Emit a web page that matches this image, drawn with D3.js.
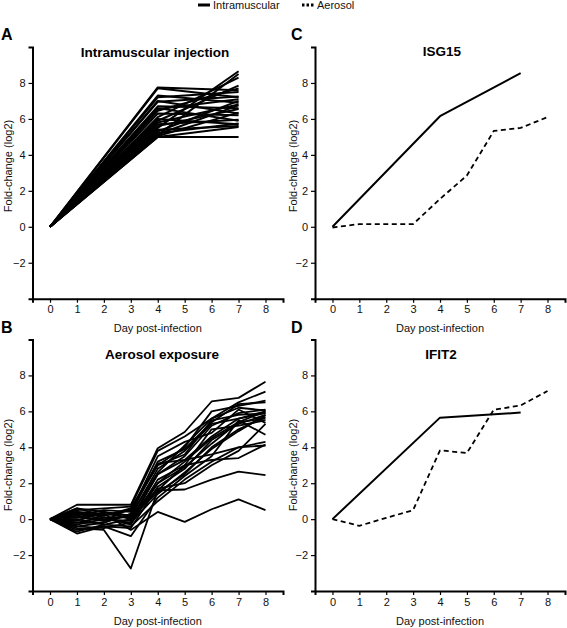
<!DOCTYPE html>
<html><head><meta charset="utf-8">
<script src="https://cdn.jsdelivr.net/npm/d3@7"></script>
<style>
html,body{margin:0;padding:0;background:#fff;}
svg{display:block;font-family:"Liberation Sans",Arial,Helvetica,sans-serif;}
</style></head>
<body>
<script>
// ---------- data ----------
const imDays = [0, 4, 7];
const aeroDays = [0, 1, 2, 3, 4, 5, 6, 7, 8];
const xTicks = [0, 1, 2, 3, 4, 5, 6, 7, 8];
const yTicks = [-2, 0, 2, 4, 6, 8];

// Panel A: intramuscular injection genes (values at days 0, 4, 7)
const imGenes = [
  [0, 7.75, 7.6], [0, 7.7, 7.2], [0, 7.3, 6.9], [0, 7.2, 7.5], [0, 7.0, 6.3],
  [0, 6.95, 7.25], [0, 6.7, 6.6], [0, 6.6, 5.9], [0, 6.55, 7.1], [0, 6.3, 6.2],
  [0, 6.1, 8.3], [0, 6.0, 5.7], [0, 5.9, 7.85], [0, 5.8, 6.8], [0, 5.7, 5.95],
  [0, 5.6, 6.55], [0, 5.5, 8.65], [0, 5.4, 5.6], [0, 5.3, 7.0], [0, 5.2, 5.75],
  [0, 5.1, 8.5], [0, 5.05, 6.35], [0, 5.0, 5.0], [0, 5.0, 5.55], [0, 5.15, 6.75],
  [0, 6.45, 7.7]
];

// Panel B: aerosol exposure genes (values at days 0..8)
const aeroGenes = [
  [0, 0.8, 0.8, 0.8, 3.95, 4.85, 6.55, 6.75, 7.65],
  [0, 0.5, 0.6, 0.7, 3.8, 4.6, 5.6, 6.5, 7.1],
  [0, 0.3, 0.2, 0.5, 3.0, 4.0, 6.0, 6.3, 6.6],
  [0, -0.4, -0.2, 0.3, 3.2, 3.9, 5.4, 6.4, 6.5],
  [0, 0.6, 0.4, 0.0, 2.5, 3.5, 5.2, 5.9, 6.1],
  [0, -0.2, 0.1, -0.3, 2.0, 3.2, 4.5, 5.4, 6.0],
  [0, 0.1, -0.1, 0.2, 2.8, 3.8, 5.3, 5.6, 5.9],
  [0, -0.6, -0.4, -0.5, 1.8, 2.8, 4.4, 5.3, 5.8],
  [0, 0.4, 0.3, 0.1, 1.5, 2.5, 4.0, 5.0, 5.7],
  [0, -0.3, 0.0, -0.2, 2.2, 3.0, 5.0, 5.2, 5.5],
  [0, 0.2, 0.5, 0.4, 3.5, 4.3, 4.8, 6.1, 5.35],
  [0, -0.8, -0.4, -0.95, 1.2, 2.4, 3.5, 5.5, 4.7],
  [0, 0.0, -0.3, -0.4, 1.0, 2.2, 3.2, 4.0, 4.3],
  [0, -0.5, -0.6, -2.75, 1.6, 3.0, 3.3, 3.4, 4.15],
  [0, 0.3, 0.0, -0.1, 2.5, 3.3, 3.6, 4.0, 4.1],
  [0, -0.2, -0.2, 0.3, 1.6, 1.65, 2.2, 2.65, 2.45],
  [0, 0.1, 0.3, -0.6, 0.4, -0.15, 0.55, 1.1, 0.5],
  [0, 0.6, 0.2, 0.6, 3.0, 3.6, 5.5, 5.8, 5.9],
  [0, -0.1, 0.4, 0.2, 2.6, 4.1, 5.6, 6.2, 6.05],
  [0, 0.4, 0.1, 0.1, 2.0, 2.9, 4.2, 5.4, 5.6],
  [0, -0.4, -0.5, -0.2, 1.4, 2.6, 3.9, 4.9, 5.8],
  [0, 0.2, -0.1, 0.6, 3.1, 3.3, 4.6, 5.6, 6.0],
  [0, -0.7, -0.3, 0.0, 1.7, 2.0, 3.0, 3.8, 5.3]
];

// Panel C: ISG15
const isg15IM = [0, 6.15, 8.55];
const isg15Aero = [-0.04, 0.15, 0.15, 0.15, 1.55, 2.85, 5.33, 5.5, 6.1];
// Panel D: IFIT2
const ifit2IM = [0, 5.65, 5.93];
const ifit2Aero = [0, -0.37, 0.07, 0.5, 3.83, 3.68, 6.09, 6.33, 7.13];

const legendLabels = ["Intramuscular", "Aerosol"];

// ---------- drawing ----------
const W = 567, H = 628;
const svg = d3.select("body").append("svg").attr("width", W).attr("height", H);

const panels = [
  {letter: "A", title: "Intramuscular injection", x0: 32.5, x1: 283, yTop: 47, yBot: 298.7,
   titleX: 155, titleY: 57, labX: 1, labY: 40, ylabX: 12, ylabY: 166, xlabY: 332},
  {letter: "B", title: "Aerosol exposure", x0: 32.5, x1: 283, yTop: 339.5, yBot: 591,
   titleX: 162, titleY: 359, labX: 1, labY: 333, ylabX: 12, ylabY: 465, xlabY: 625},
  {letter: "C", title: "ISG15", x0: 315, x1: 565, yTop: 47, yBot: 298.7,
   titleX: 442, titleY: 56, labX: 291, labY: 40, ylabX: 297, ylabY: 166, xlabY: 332},
  {letter: "D", title: "IFIT2", x0: 315, x1: 565, yTop: 339.5, yBot: 591,
   titleX: 441, titleY: 359, labX: 291, labY: 333, ylabX: 297, ylabY: 465, xlabY: 625}
];

function setup(p) {
  const x = d3.scaleLinear().domain([-0.65, 8.65]).range([p.x0, p.x1]);
  const y = d3.scaleLinear().domain([-4, 10]).range([p.yBot, p.yTop]);
  const g = svg.append("g");
  const ax = g.append("g").attr("transform", `translate(0,${p.yBot})`)
    .call(d3.axisBottom(x).tickValues(xTicks).tickSize(4).tickSizeOuter(4).tickPadding(3));
  const ay = g.append("g").attr("transform", `translate(${p.x0},0)`)
    .call(d3.axisLeft(y).tickValues(yTicks).tickSize(4).tickSizeOuter(4).tickPadding(3));
  [ax, ay].forEach(a => {
    a.select(".domain").attr("stroke", "#000").attr("stroke-width", 2);
    a.selectAll(".tick line").attr("stroke", "#000").attr("stroke-width", 1.2);
    a.selectAll(".tick text").attr("fill", "#111").style("font-size", "11px")
      .style("font-family", "Liberation Sans, Arial, sans-serif");
  });
  g.append("text").attr("x", p.titleX).attr("y", p.titleY).attr("text-anchor", "middle")
    .style("font-size", "13.5px").style("font-weight", "bold").attr("fill", "#000").text(p.title);
  g.append("text").attr("x", p.labX).attr("y", p.labY)
    .style("font-size", "16px").style("font-weight", "bold").attr("fill", "#000").text(p.letter);
  g.append("text").attr("transform", `translate(${p.ylabX},${p.ylabY}) rotate(-90)`)
    .attr("text-anchor", "middle").style("font-size", "11px").attr("fill", "#111")
    .text("Fold-change (log2)");
  g.append("text").attr("x", (x(0) + x(8)) / 2).attr("y", p.xlabY).attr("text-anchor", "middle")
    .style("font-size", "11px").attr("fill", "#111").text("Day post-infection");
  return {x, y, g};
}

function drawLine(ctx, days, vals, dashed, width) {
  const line = d3.line().x((d, i) => ctx.x(days[i])).y(d => ctx.y(d));
  ctx.g.append("path").datum(vals).attr("d", line)
    .attr("fill", "none").attr("stroke", "#000").attr("stroke-width", width)
    .attr("stroke-linejoin", "round")
    .attr("stroke-dasharray", dashed ? "5,3.5" : null);
}

const pA = setup(panels[0]);
imGenes.forEach(v => drawLine(pA, imDays, v, false, 2));
const pB = setup(panels[1]);
aeroGenes.forEach(v => drawLine(pB, aeroDays, v, false, 1.8));
const pC = setup(panels[2]);
drawLine(pC, imDays, isg15IM, false, 2);
drawLine(pC, aeroDays, isg15Aero, true, 1.8);
const pD = setup(panels[3]);
drawLine(pD, imDays, ifit2IM, false, 2);
drawLine(pD, aeroDays, ifit2Aero, true, 1.8);

// legend
const leg = svg.append("g");
const legItems = [{x: 198, dashed: false}, {x: 302, dashed: true}];
legItems.forEach((it, i) => {
  leg.append("line").attr("x1", it.x).attr("x2", it.x + 12).attr("y1", 5).attr("y2", 5)
    .attr("stroke", "#000").attr("stroke-width", 3)
    .attr("stroke-dasharray", it.dashed ? "2.5,2" : null);
  leg.append("text").attr("x", it.x + 15).attr("y", 9).style("font-size", "11px")
    .attr("fill", "#111").text(legendLabels[i]);
});
</script>
</body></html>
